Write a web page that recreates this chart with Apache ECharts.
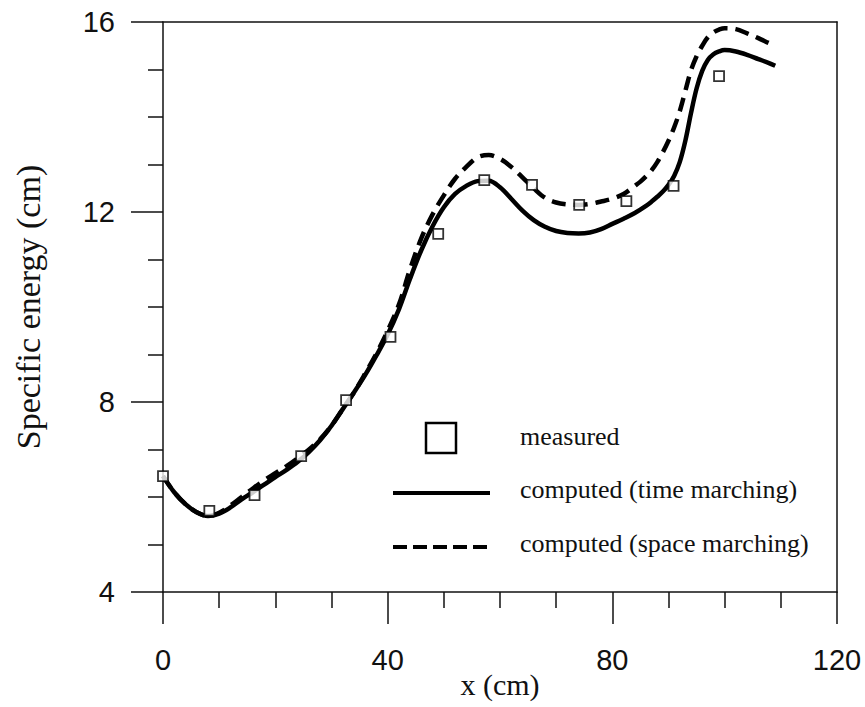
<!DOCTYPE html>
<html>
<head>
<meta charset="utf-8">
<script src="https://cdn.jsdelivr.net/npm/echarts@6/dist/echarts.min.js"></script>
<style>html,body{margin:0;padding:0;background:#fff}#c{width:865px;height:707px}</style>
</head>
<body>
<div id="c"></div>
<script>
const xTicks = [0, 40, 80, 120];
const yTicks = [4, 8, 12, 16];

const measuredX = [0, 8.25, 16.3, 24.6, 32.6, 40.5, 49, 57.2, 65.7, 74.1, 82.5, 90.9, 99];
const measuredY = [6.44, 5.71, 6.04, 6.86, 8.04, 9.37, 11.54, 12.67, 12.57, 12.15, 12.23, 12.55, 14.86];

const timeX = [0,2,4,6,8,10,12,14,16,18,20,22,24,26,28,30,32,34,36,38,40,42,44,46,48,50,52,54,56,58,60,62,64,66,68,70,72,74,76,78,80,82,84,86,87,88,89,90,91,92,93,94,95,96,97,98,99,100,102,104,106,108,109];
const timeY = [6.44,6.1,5.85,5.68,5.6,5.65,5.78,5.95,6.1,6.26,6.42,6.57,6.74,6.95,7.2,7.5,7.85,8.2,8.57,8.98,9.42,9.95,10.6,11.2,11.7,12.1,12.38,12.55,12.65,12.66,12.52,12.28,12.03,11.83,11.69,11.6,11.56,11.55,11.57,11.64,11.75,11.86,11.98,12.13,12.22,12.32,12.43,12.57,12.76,13.05,13.5,14.08,14.6,14.97,15.2,15.32,15.38,15.41,15.38,15.31,15.22,15.13,15.08];

const spaceX = [0,2,4,6,8,10,12,14,16,18,20,22,24,26,28,30,32,34,36,38,40,42,44,46,48,50,52,54,56,58,60,62,64,66,68,70,72,74,76,78,80,82,84,85,86,87,88,89,90,91,92,93,94,95,96,97,98,99,100,102,104,106,108,109];
const spaceY = [6.44,6.1,5.85,5.68,5.6,5.67,5.82,6.0,6.18,6.35,6.5,6.65,6.82,7.0,7.22,7.5,7.85,8.2,8.6,9.02,9.5,10.05,10.8,11.45,11.95,12.35,12.7,12.95,13.15,13.2,13.12,12.95,12.73,12.5,12.3,12.2,12.16,12.15,12.17,12.22,12.28,12.38,12.55,12.64,12.75,12.88,13.05,13.26,13.5,13.78,14.12,14.55,14.98,15.28,15.5,15.68,15.78,15.84,15.87,15.85,15.76,15.66,15.55,15.5];

const legendLabels = ['measured', 'computed (time marching)', 'computed (space marching)'];

const zip = (a, b) => a.map((v, i) => [v, b[i]]);

const serif = '"Liberation Serif", "DejaVu Serif", serif';
const sans = '"Liberation Sans", Arial, sans-serif';

const chart = echarts.init(document.getElementById('c'), null, {renderer: 'svg'});
chart.setOption({
  backgroundColor: '#fff',
  animation: false,
  grid: {left: 163, right: 28, top: 22, bottom: 115, containLabel: false, outerBoundsMode: 'none'},
  xAxis: [{
    type: 'value', min: xTicks[0], max: xTicks[xTicks.length - 1], interval: 40,
    name: 'x (cm)', nameLocation: 'middle', nameGap: 77, nameMoveOverlap: false,
    nameTextStyle: {fontFamily: serif, fontSize: 30, color: '#111', lineHeight: 30, verticalAlign: 'top'},
    axisLine: {show: true, lineStyle: {color: '#111', width: 1.5}},
    axisTick: {show: true, inside: false, length: 32, lineStyle: {color: '#111', width: 1.5}},
    minorTick: {show: true, splitNumber: 4, length: 16, lineStyle: {color: '#111', width: 1.5}},
    splitLine: {show: false},
    axisLabel: {margin: 53, fontFamily: sans, fontSize: 29, color: '#111'}
  }, {
    type: 'value', position: 'top', min: 0, max: 120,
    axisLine: {show: true, onZero: false, lineStyle: {color: '#111', width: 1.5}},
    axisTick: {show: false}, axisLabel: {show: false}, splitLine: {show: false}
  }],
  yAxis: [{
    type: 'value', min: yTicks[0], max: yTicks[yTicks.length - 1], interval: 4,
    name: 'Specific energy (cm)', nameLocation: 'middle', nameGap: 118, nameMoveOverlap: false,
    nameTextStyle: {fontFamily: serif, fontSize: 34, color: '#111'},
    axisLine: {show: true, lineStyle: {color: '#111', width: 1.5}},
    axisTick: {show: true, inside: false, length: 32, lineStyle: {color: '#111', width: 1.5}},
    minorTick: {show: true, splitNumber: 4, length: 15, lineStyle: {color: '#111', width: 1.5}},
    splitLine: {show: false},
    axisLabel: {margin: 48, fontFamily: sans, fontSize: 29, color: '#111'}
  }, {
    type: 'value', position: 'right', min: 4, max: 16,
    axisLine: {show: true, onZero: false, lineStyle: {color: '#111', width: 1.5}},
    axisTick: {show: false}, axisLabel: {show: false}, splitLine: {show: false}
  }],
  series: [{
    name: legendLabels[1], type: 'line', smooth: 0.35, showSymbol: false,
    data: zip(timeX, timeY),
    lineStyle: {color: '#000', width: 4.5}, z: 2
  }, {
    name: legendLabels[2], type: 'line', smooth: 0.35, showSymbol: false,
    data: zip(spaceX, spaceY),
    lineStyle: {color: '#000', width: 4.5, type: [14, 8]}, z: 2
  }, {
    name: legendLabels[0], type: 'scatter', symbol: 'rect', symbolSize: 10,
    data: zip(measuredX, measuredY),
    itemStyle: {color: '#fff', borderColor: '#000', borderWidth: 1.8}, z: 5
  }],
  graphic: [
    {type: 'rect', shape: {x: 426, y: 423, width: 30, height: 30}, style: {fill: '#fff', stroke: '#000', lineWidth: 2.5}},
    {type: 'text', left: 520, top: 423, style: {text: legendLabels[0], font: '26px ' + serif, fill: '#111'}},
    {type: 'line', shape: {x1: 393, y1: 493, x2: 490, y2: 493}, style: {stroke: '#000', lineWidth: 4}},
    {type: 'text', left: 520, top: 476, style: {text: legendLabels[1], font: '26px ' + serif, fill: '#111'}},
    {type: 'line', shape: {x1: 393, y1: 547, x2: 490, y2: 547}, style: {stroke: '#000', lineWidth: 4, lineDash: [14, 6]}},
    {type: 'text', left: 520, top: 530, style: {text: legendLabels[2], font: '26px ' + serif, fill: '#111'}}
  ]
});
</script>
</body>
</html>
